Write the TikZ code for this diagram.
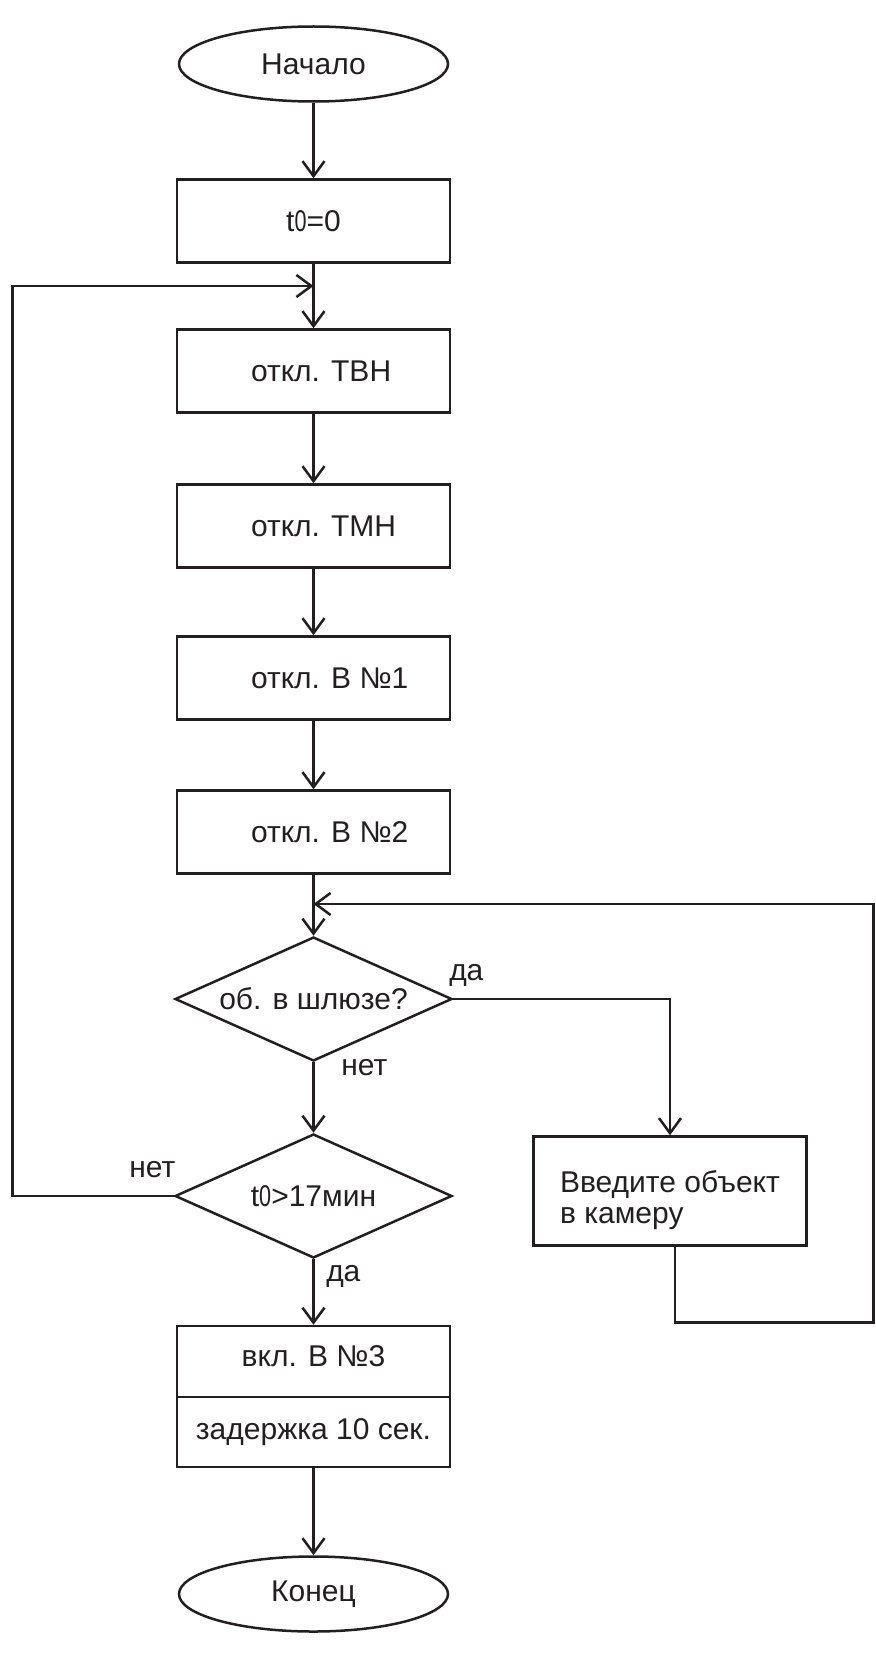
\documentclass[tikz,border=0pt]{standalone}
\usepackage{fontspec}
\usepackage{graphicx}
\setmainfont{Liberation Sans}
\usetikzlibrary{shapes.geometric,arrows.meta}
\definecolor{ink}{RGB}{35,31,32}
\newcommand{\tnull}{t\scalebox{0.72}[1]{0}}
\newcommand{\lefttext}[1]{\makebox[125pt][l]{#1}}
\begin{document}
\begin{tikzpicture}[x=1pt,y=-1pt,line width=2.5pt,draw=ink,
  every node/.style={font=\fontsize{30}{31.5}\selectfont,text=ink},
  term/.style={ellipse,draw,minimum width=269pt,minimum height=75pt,inner sep=0pt},
  proc/.style={rectangle,draw,minimum width=273pt,minimum height=83pt,inner sep=0pt},
  dec/.style={diamond,draw,shape aspect=2.2,minimum width=277pt,minimum height=124pt,inner sep=0pt},
  lbl/.style={anchor=base west,inner sep=0pt},
  arr/.style={-{Straight Barb[length=15pt,width=22pt]}}]
\useasboundingbox (0,0) rectangle (875,1656);

\node[term] (start) at (313.5,64) {Начало};
\node[proc] (t0) at (313.5,221) {\tnull=0};
\node[proc] (tvn) at (313.5,371) {\lefttext{откл. ТВН}};
\node[proc] (tmn) at (313.5,526) {\lefttext{откл. ТМН}};
\node[proc] (v1) at (313.5,678) {\lefttext{откл. В №1}};
\node[proc] (v2) at (313.5,832) {\lefttext{откл. В №2}};
\node[dec] (q1) at (313.5,999) {об. в шлюзе?};
\node[dec] (q2) at (313.5,1196) {\tnull>17мин};
\node[proc,minimum height=71pt,text depth=10pt] (v3) at (313.5,1361.5) {вкл. В №3};
\node[proc,minimum height=70pt] (delay) at (313.5,1432) {задержка 10 сек.};
\node[term] (end) at (313.5,1594) {Конец};
\node[proc,minimum height=109pt] (obj) at (670,1191)
  {\raisebox{-10.5pt}[\height][\depth]{\begin{tabular}{@{}l@{}}Введите объект\\в камеру\end{tabular}}};

\node[lbl] (yes1) at (448,980) {да};
\node[lbl] (no1) at (340,1075) {нет};
\node[lbl] (no2) at (128,1177) {нет};
\node[lbl] (yes2) at (325,1281) {да};

\coordinate (j1) at (313.5,286);
\coordinate (lx) at (12.5,286);
\coordinate (j2) at (313.5,904);
\coordinate (r1) at (873.5,1322.5);
\coordinate (r2) at (873.5,904);

\draw[arr] (start) -- (t0);
\draw[arr] (t0) -- (tvn);
\draw[arr] (tvn) -- (tmn);
\draw[arr] (tmn) -- (v1);
\draw[arr] (v1) -- (v2);
\draw[arr] (v2) -- (q1);
\draw[arr] (q1) -- (q2);
\draw[arr] (q2) -- (v3);
\draw[arr] (delay) -- (end);
\draw[arr] (q1.east) -| (obj.north);
\draw[arr] (q2.west) -| (lx) -- (j1);
\draw[arr] ([xshift=5pt]obj.south) |- (r1) -- (r2) -- (j2);
\end{tikzpicture}
\end{document}
